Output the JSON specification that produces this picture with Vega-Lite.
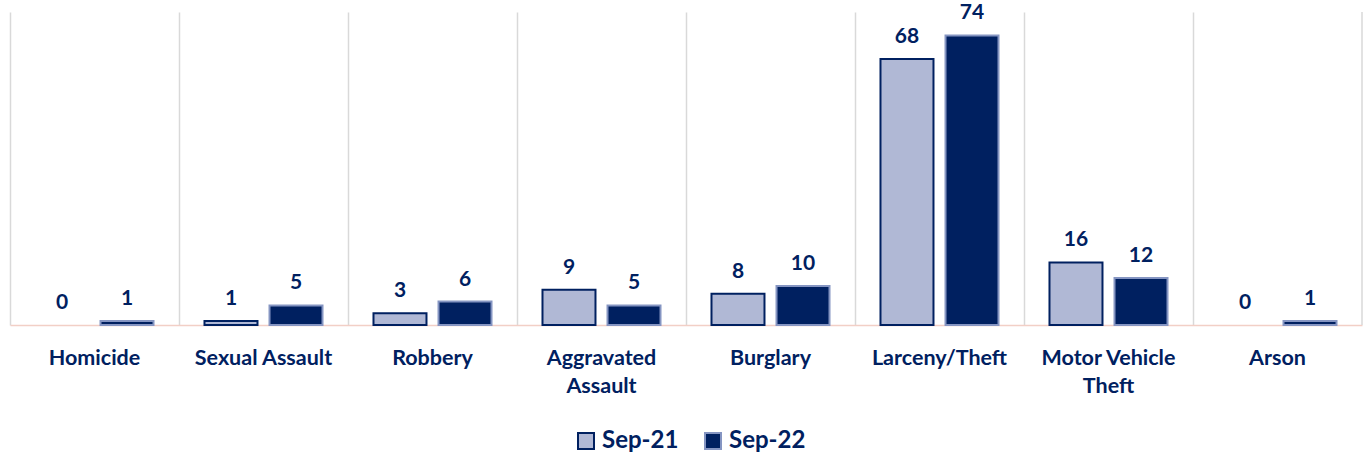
{
  "$schema": "https://vega.github.io/schema/vega-lite/v6.json",
  "width": 1352,
  "height": 313,
  "autosize": "none",
  "padding": {"left": 10, "top": 12, "right": 1, "bottom": 134},
  "background": "white",
  "config": {
    "view": {"stroke": null},
    "font": "Lato",
    "axis": {"labelFont": "Lato", "titleFont": "Lato"},
    "legend": {"labelFont": "Lato"}
  },
  "data": {
    "values": [
      {"category": "Homicide", "series": "Sep-21", "value": 0},
      {"category": "Homicide", "series": "Sep-22", "value": 1},
      {"category": "Sexual Assault", "series": "Sep-21", "value": 1},
      {"category": "Sexual Assault", "series": "Sep-22", "value": 5},
      {"category": "Robbery", "series": "Sep-21", "value": 3},
      {"category": "Robbery", "series": "Sep-22", "value": 6},
      {"category": "Aggravated Assault", "series": "Sep-21", "value": 9},
      {"category": "Aggravated Assault", "series": "Sep-22", "value": 5},
      {"category": "Burglary", "series": "Sep-21", "value": 8},
      {"category": "Burglary", "series": "Sep-22", "value": 10},
      {"category": "Larceny/Theft", "series": "Sep-21", "value": 68},
      {"category": "Larceny/Theft", "series": "Sep-22", "value": 74},
      {"category": "Motor Vehicle Theft", "series": "Sep-21", "value": 16},
      {"category": "Motor Vehicle Theft", "series": "Sep-22", "value": 12},
      {"category": "Arson", "series": "Sep-21", "value": 0},
      {"category": "Arson", "series": "Sep-22", "value": 1}
    ]
  },
  "encoding": {
    "x": {
      "field": "category",
      "type": "nominal",
      "sort": null,
      "scale": {"paddingInner": 0, "paddingOuter": 0},
      "axis": {
        "title": null,
        "labelAngle": 0,
        "labelFontSize": 21.5,
        "labelFontWeight": "bold",
        "labelColor": "#002060",
        "labelPadding": 22,
        "labelBaseline": "top",
        "labelLineHeight": 28,
        "ticks": false,
        "domainColor": "#f2cfc6",
        "domainWidth": 1.5,
        "grid": true,
        "gridColor": "#d9d9d9",
        "gridWidth": 1.5,
        "bandPosition": 0,
        "labelExpr": "datum.label == 'Aggravated Assault' ? ['Aggravated', 'Assault'] : datum.label == 'Motor Vehicle Theft' ? ['Motor Vehicle', 'Theft'] : datum.label"
      }
    },
    "xOffset": {
      "field": "series",
      "type": "nominal",
      "scale": {"paddingInner": 0.185, "paddingOuter": 0.392}
    },
    "y": {
      "field": "value",
      "type": "quantitative",
      "scale": {"domain": [0, 80]},
      "axis": null
    }
  },
  "layer": [
    {
      "mark": {"type": "bar", "strokeWidth": 2},
      "encoding": {
        "fill": {
          "field": "series",
          "type": "nominal",
          "scale": {"domain": ["Sep-21", "Sep-22"], "range": ["#b0b8d5", "#002060"]},
          "legend": {
            "title": null,
            "orient": "none",
            "legendX": 564,
            "legendY": 417,
            "direction": "horizontal",
            "symbolType": "square",
            "symbolSize": 256,
            "symbolStrokeWidth": 2,
            "labelFontSize": 24,
            "labelFontWeight": "bold",
            "labelColor": "#002060",
            "columnPadding": 22,
            "labelOffset": 4
          }
        },
        "stroke": {
          "field": "series",
          "type": "nominal",
          "scale": {"domain": ["Sep-21", "Sep-22"], "range": ["#002060", "#8595c2"]},
          "legend": {
            "title": null,
            "orient": "none",
            "legendX": 564,
            "legendY": 417,
            "direction": "horizontal",
            "symbolType": "square",
            "symbolSize": 256,
            "symbolStrokeWidth": 2,
            "labelFontSize": 24,
            "labelFontWeight": "bold",
            "labelColor": "#002060",
            "columnPadding": 22,
            "labelOffset": 4
          }
        },
        "strokeOpacity": {"condition": {"test": "datum.value == 0", "value": 0}, "value": 1}
      }
    },
    {
      "mark": {
        "type": "text",
        "dy": -16,
        "baseline": "alphabetic",
        "fontSize": 21,
        "fontWeight": "bold",
        "color": "#002060"
      },
      "encoding": {"text": {"field": "value", "type": "quantitative"}}
    },
    {
      "data": {"values": [{"category": "Arson"}]},
      "mark": {"type": "rule", "color": "#d9d9d9", "strokeWidth": 1.5},
      "encoding": {
        "x": {"field": "category", "type": "nominal", "bandPosition": 1},
        "xOffset": null,
        "y": null
      }
    }
  ]
}
